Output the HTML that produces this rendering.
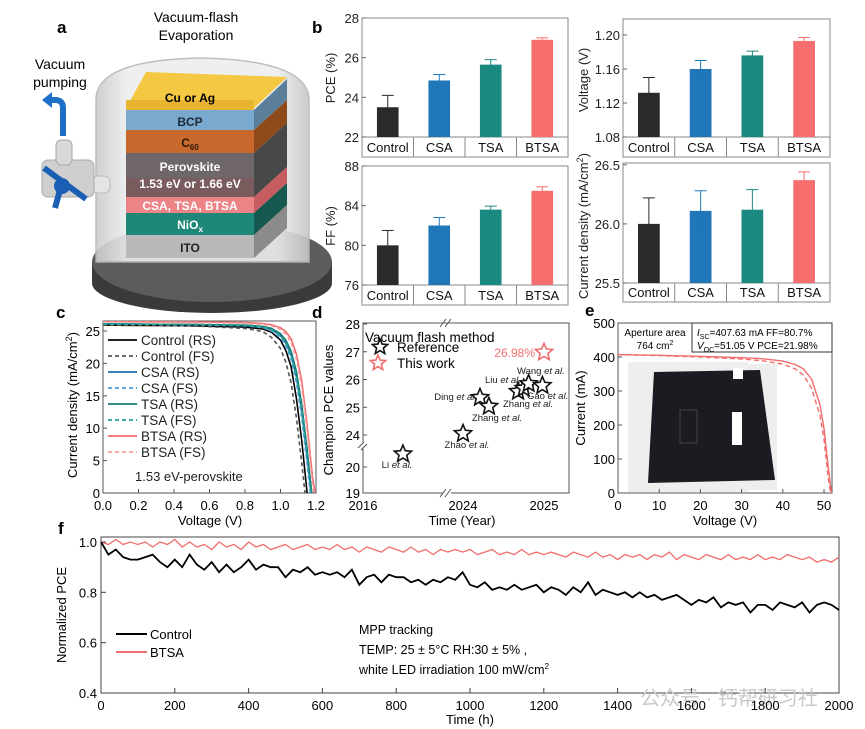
<!DOCTYPE html>
<html><head><meta charset="utf-8"><style>
html,body{margin:0;padding:0;background:#fff;}
svg{display:block;font-family:"Liberation Sans","Noto Sans CJK SC",sans-serif;}
</style></head><body>
<svg id="fig" width="865" height="729" viewBox="0 0 865 729">
<defs>
<linearGradient id="dome" x1="0" x2="1" y1="0" y2="0"><stop offset="0" stop-color="#c9cbcd"/><stop offset="0.15" stop-color="#eceeef"/><stop offset="0.85" stop-color="#eceeef"/><stop offset="1" stop-color="#c4c6c8"/></linearGradient>
<clipPath id="clipC"><rect x="103" y="321" width="213" height="172"/></clipPath>
<clipPath id="clipE"><rect x="618" y="323" width="214" height="170"/></clipPath>
</defs>
<!-- panel a -->
<g>
<text x="57" y="33" font-size="17" font-weight="bold">a</text>
<text x="196" y="22" font-size="14" text-anchor="middle">Vacuum-flash</text>
<text x="196" y="40" font-size="14" text-anchor="middle">Evaporation</text>
<text x="60" y="69" font-size="14" text-anchor="middle">Vacuum</text>
<text x="60" y="87" font-size="14" text-anchor="middle">pumping</text>
<ellipse cx="212" cy="283" rx="120" ry="30" fill="#3a3a3a"/>
<rect x="92" y="262" width="240" height="21" fill="#3a3a3a"/>
<ellipse cx="212" cy="262" rx="120" ry="40" fill="#5c5c5c"/>
<path d="M96,262 L96,100 Q96,60 200,58 Q309,60 309,100 L309,262 Z" fill="url(#dome)" stroke="#b5b8bb" stroke-width="1.5" opacity="0.9"/>
<g>
<polygon points="126,108 254,108 287,77 146,72" fill="#f4c842"/>
<rect x="126" y="100" width="128" height="10" fill="#e8b530"/>
<polygon points="254,110 287,79 287,100 254,130" fill="#5b7f9b"/>
<rect x="126" y="110" width="128" height="20" fill="#7aa9cf"/>
<polygon points="254,130 287,100 287,123 254,153" fill="#8f4a1c"/>
<rect x="126" y="130" width="128" height="23" fill="#c9682c"/>
<polygon points="254,153 287,123 287,167 254,197" fill="#484848"/>
<rect x="126" y="153" width="128" height="44" fill="#6e6668"/>
<rect x="126" y="178" width="128" height="19" fill="#7a5b5e"/>
<polygon points="254,197 287,167 287,183 254,213" fill="#c75d60"/>
<rect x="126" y="197" width="128" height="16" fill="#ec8386"/>
<polygon points="254,213 287,183 287,205 254,235" fill="#14584f"/>
<rect x="126" y="213" width="128" height="22" fill="#1f8778"/>
<polygon points="254,235 287,205 287,228 254,258" fill="#8b8b8b"/>
<rect x="126" y="235" width="128" height="23" fill="#b9b9b9"/>
<g font-size="12" font-weight="bold" text-anchor="middle">
<text x="190" y="102">Cu or Ag</text>
<text x="190" y="126" fill="#1b2a38">BCP</text>
<text x="190" y="147" fill="#2a1506">C<tspan font-size="8" dy="3">60</tspan></text>
<text x="190" y="171" fill="#fff">Perovskite</text>
<text x="190" y="188" fill="#fff">1.53 eV or  1.66 eV</text>
<text x="190" y="210" fill="#fff">CSA, TSA,  BTSA</text>
<text x="190" y="229" fill="#fff">NiO<tspan font-size="8" dy="3">x</tspan></text>
<text x="190" y="252" fill="#222">ITO</text>
</g></g>
<g>
<path d="M63,136 L63,108 Q63,100 55,100 L50,100" fill="none" stroke="#1e6fc8" stroke-width="6"/>
<polygon points="42,100 52,92 52,108" fill="#1e6fc8"/>
<rect x="92" y="176" width="18" height="17" rx="6" fill="#e4e4e4" stroke="#bbb"/>
<rect x="42" y="160" width="52" height="37" rx="6" fill="#cfcfcf" stroke="#aaa"/>
<rect x="56" y="140" width="16" height="25" rx="5" fill="#d8d8d8" stroke="#aaa"/>
<line x1="44" y1="168" x2="86" y2="199" stroke="#1a5fb4" stroke-width="6"/>
<circle cx="62" cy="186" r="8" fill="#1a5fb4"/>
<line x1="60" y1="190" x2="55" y2="208" stroke="#1a5fb4" stroke-width="6"/>
</g>
</g>
<g id="gB"><text x="312" y="33" font-size="17" font-weight="bold">b</text></g>
<g id="gC"><text x="56" y="318" font-size="17" font-weight="bold">c</text></g>
<g id="gD"><text x="312" y="318" font-size="17" font-weight="bold">d</text></g>
<g id="gE"><text x="585" y="316" font-size="17" font-weight="bold">e</text></g>
<g id="gF"><text x="58" y="534" font-size="17" font-weight="bold">f</text></g>
</svg>
<script>
// ---------- data ----------
var barCats = ['Control','CSA','TSA','BTSA'];
var barColors = ['#2a2a2a','#1f77b8','#1a8a80','#f76e6e'];
var pceVals = [23.5, 24.85, 25.65, 26.9];
var pceErr = [0.6, 0.3, 0.25, 0.1];
var vocVals = [1.132, 1.160, 1.176, 1.193];
var vocErr = [0.018, 0.010, 0.005, 0.004];
var ffVals = [80.0, 82.0, 83.6, 85.5];
var ffErr = [1.5, 0.8, 0.35, 0.4];
var jscVals = [26.0, 26.11, 26.12, 26.37];
var jscErr = [0.22, 0.17, 0.17, 0.07];
var pceTicks = [22,24,26,28];
var vocTicks = [1.08,1.12,1.16,1.20];
var ffTicks = [76,80,84,88];
var jscTicks = [25.5,26.0,26.5];

var jvVolt = [0,0.5,0.8,0.9,0.95,1.0,1.03,1.06,1.09,1.12,1.15,1.18,1.21];
var jvControlRS = [25.9,25.8,25.6,25.3,24.8,23.6,22,19.5,14.5,8,0,-8,-14];
var jvControlFS = [25.9,25.8,25.4,24.9,24.0,22.3,20.2,17,11.5,4.5,-3,-10,-16];
var jvCsaRS = [26.1,26.0,25.8,25.6,25.2,24.3,23.1,21.3,17.8,12.5,5.5,-2,-8];
var jvCsaFS = [26.1,26.0,25.8,25.5,25.0,24.0,22.7,20.7,17,11.5,4.5,-3,-9];
var jvTsaRS = [26.1,26.0,25.9,25.7,25.4,24.6,23.6,21.9,18.7,13.6,6.8,-1,-7];
var jvTsaFS = [26.1,26.0,25.85,25.6,25.2,24.3,23.2,21.3,18,12.8,6,-2,-8];
var jvBtsaRS = [26.45,26.4,26.3,26.15,25.95,25.5,24.9,23.8,21.4,17.2,10.6,2.6,-3];
var jvBtsaFS = [26.4,26.3,26.2,26.0,25.8,25.2,24.5,23.2,20.6,16.3,9.6,1.5,-4];
var jvNames = ['Control (RS)','Control (FS)','CSA (RS)','CSA (FS)','TSA (RS)','TSA (FS)','BTSA (RS)','BTSA (FS)'];
var jvXTicks = [0,0.2,0.4,0.6,0.8,1.0,1.2];
var jvYTicks = [0,5,10,15,20,25];

var refNames = ['Li','Zhao','Ding','Zhang','Zhang','Liu','Wang','Gao'];
var refYears = [2017.9,2024.0,2024.21,2024.32,2024.68,2024.75,2024.81,2024.98];
var refPce = [20.5,24.05,25.35,25.03,25.57,25.68,25.85,25.78];
var thisYear = [2025.0];
var thisPce = [26.98];

var modVolt = [0,10,20,30,35,40,43,45,47,49,50,51,52];
var modRS = [407,405,402,398,395,388,378,365,335,260,190,80,-20];
var modFS = [407,404,400,394,389,379,365,347,308,228,158,48,-30];

var stabControl = [1.00,0.95,0.97,0.94,0.93,0.93,0.94,0.95,0.92,0.90,0.93,0.90,0.95,0.91,0.89,0.92,0.88,0.91,0.88,0.90,0.93,0.89,0.91,0.90,0.90,0.86,0.89,0.88,0.90,0.87,0.88,0.87,0.88,0.86,0.89,0.83,0.86,0.87,0.84,0.87,0.86,0.86,0.84,0.85,0.83,0.85,0.84,0.86,0.85,0.88,0.83,0.82,0.84,0.81,0.82,0.81,0.83,0.81,0.82,0.83,0.80,0.82,0.81,0.79,0.82,0.80,0.84,0.79,0.81,0.80,0.79,0.80,0.78,0.80,0.78,0.79,0.77,0.78,0.79,0.77,0.75,0.77,0.76,0.78,0.74,0.76,0.75,0.76,0.72,0.75,0.75,0.73,0.76,0.75,0.74,0.76,0.72,0.75,0.76,0.75,0.73];
var stabBtsa = [1.00,0.99,1.01,0.99,1.00,0.99,1.00,0.98,1.00,0.99,1.01,0.98,1.00,0.98,0.99,0.97,1.00,0.98,0.99,0.97,1.00,0.98,0.99,0.97,0.98,0.99,0.97,0.98,0.99,0.97,0.98,0.97,0.99,0.97,0.98,0.96,0.98,0.97,0.96,0.98,0.97,0.96,0.98,0.96,0.97,0.95,0.97,0.96,0.97,0.96,0.97,0.95,0.96,0.97,0.95,0.96,0.95,0.97,0.95,0.96,0.95,0.96,0.95,0.94,0.96,0.95,0.94,0.96,0.94,0.95,0.93,0.95,0.94,0.95,0.93,0.95,0.94,0.96,0.93,0.95,0.94,0.93,0.95,0.94,0.93,0.95,0.93,0.94,0.93,0.95,0.93,0.94,0.93,0.95,0.94,0.93,0.94,0.92,0.93,0.92,0.94];
var stabStep = 20;
var stabXTicks = [0,200,400,600,800,1000,1200,1400,1600,1800,2000];
var stabYTicks = [0.4,0.6,0.8,1.0];

// ---------- helpers ----------
var NS='http://www.w3.org/2000/svg';
function mk(tag, attrs, parent){var e=document.createElementNS(NS,tag);for(var k in attrs)e.setAttribute(k,attrs[k]);parent.appendChild(e);return e;}
function txt(s, attrs, parent){var e=mk('text',attrs,parent);e.textContent=s;return e;}
function lin(d0,d1,r0,r1){return function(v){return r0+(v-d0)/(d1-d0)*(r1-r0);};}

// ---------- panel b bar charts ----------
function barChart(g, box, ymin, ymax, vals, errs, ticks, fmt, ylab, name){
  var y=lin(ymin,ymax,box.b,box.t);
  var grp=mk('g',{},g);
  
  
  mk('rect',{x:box.l,y:box.t,width:box.r-box.l,height:box.cb-box.t,fill:'none',stroke:'#888','stroke-width':1},grp);
  mk('line',{x1:box.l,y1:box.b,x2:box.r,y2:box.b,stroke:'#888'},grp);
  var cw=(box.r-box.l)/vals.length;
  for(var i=0;i<vals.length;i++){
    var cx=box.l+cw*(i+0.5), bw=cw*0.42;
    if(i>0) mk('line',{x1:box.l+cw*i,y1:box.b,x2:box.l+cw*i,y2:box.cb,stroke:'#888'},grp);
    var bar=mk('rect',{x:cx-bw/2,y:y(vals[i]),width:bw,height:box.b-y(vals[i]),fill:barColors[i]},grp);
    
    
    var et=y(vals[i]+errs[i]), eb=y(vals[i]-errs[i]);
    mk('line',{x1:cx,y1:et,x2:cx,y2:eb,stroke:barColors[i],'stroke-width':1},grp);
    mk('line',{x1:cx-6,y1:et,x2:cx+6,y2:et,stroke:barColors[i],'stroke-width':1},grp);
    var ct=txt(barCats[i],{x:cx,y:box.cb-5,'font-size':13,'text-anchor':'middle',fill:'#111'},grp);
    
    
  }
  for(var j=0;j<ticks.length;j++){
    var ty=y(ticks[j]);
    mk('line',{x1:box.l,y1:ty,x2:box.l+4,y2:ty,stroke:'#666'},grp);
    var tl=txt(fmt(ticks[j]),{x:box.l-3,y:ty+5,'font-size':13,'text-anchor':'end',fill:'#222'},grp);
    
    
  }
  var yl=txt(ylab.t,{x:ylab.x,y:ylab.y,'font-size':13,'text-anchor':'middle',transform:'rotate(-90 '+ylab.x+' '+ylab.y+')',fill:'#222'},grp);
  
  
  return yl;
}
var gB=document.getElementById('gB');
barChart(gB,{l:362,r:568,t:18,b:137,cb:157},22,28,pceVals,pceErr,pceTicks,function(v){return String(v);},{t:'PCE (%)',x:335,y:78},'pce-bar-chart');
barChart(gB,{l:362,r:568,t:166,b:285,cb:305},76,88,ffVals,ffErr,ffTicks,function(v){return String(v);},{t:'FF (%)',x:335,y:226},'ff-bar-chart');
barChart(gB,{l:623,r:830,t:19,b:137,cb:157},1.08,1.2188,vocVals,vocErr,vocTicks,function(v){return v.toFixed(2);},{t:'Voltage (V)',x:588,y:80},'voc-bar-chart');
var jl=barChart(gB,{l:623,r:830,t:163,b:283,cb:302},25.5,26.515,jscVals,jscErr,jscTicks,function(v){return v.toFixed(1);},{t:'',x:588,y:226},'jsc-bar-chart');
jl.innerHTML='Current density (mA/cm<tspan font-size="9" dy="-5">2</tspan><tspan dy="5">)</tspan>';

// ---------- panel c J-V ----------
var gC=document.getElementById('gC');
var cx=lin(0,1.2,103,316), cy=lin(0,26.54,493,321);
mk('rect',{x:103,y:321,width:213,height:172,fill:'none',stroke:'#555'},gC);
var jvSeries=[jvControlRS,jvControlFS,jvCsaRS,jvCsaFS,jvTsaRS,jvTsaFS,jvBtsaRS,jvBtsaFS];
var jvCols=['#000','#555','#1f6fa8','#4aa0d8','#167d73','#2aa393','#f26d6d','#f5a0a0'];
var lg=mk('g',{'clip-path':'url(#clipC)'},gC);
for(var s=0;s<jvSeries.length;s++){
  var pts=jvVolt.map(function(v,i){return cx(v).toFixed(1)+','+cy(jvSeries[s][i]).toFixed(1);}).join(' ');
  var pl=mk('polyline',{points:pts,fill:'none',stroke:jvCols[s],'stroke-width':1.6,'stroke-dasharray':(s%2?'4,3':'none')},lg);
  
  
  var ly=340+s*16;
  mk('line',{x1:108,y1:ly,x2:137,y2:ly,stroke:jvCols[s],'stroke-width':1.8,'stroke-dasharray':(s%2?'4,3':'none')},gC);
  var lt=txt(jvNames[s],{x:141,y:ly+5,'font-size':13.5,fill:'#222'},gC);
  
  
}
txt('1.53 eV-perovskite',{x:135,y:481,'font-size':13,fill:'#222'},gC);
jvXTicks.forEach(function(v){mk('line',{x1:cx(v),y1:493,x2:cx(v),y2:489,stroke:'#555'},gC);var t=txt(v.toFixed(1),{x:cx(v),y:510,'font-size':13,'text-anchor':'middle'},gC);});
jvYTicks.forEach(function(v){mk('line',{x1:103,y1:cy(v),x2:107,y2:cy(v),stroke:'#555'},gC);var t=txt(String(v),{x:100,y:cy(v)+5,'font-size':13,'text-anchor':'end'},gC);});
var cxl=txt('Voltage (V)',{x:210,y:525,'font-size':13,'text-anchor':'middle'},gC);


var cyl=mk('text',{x:77,y:405,'font-size':13,'text-anchor':'middle',transform:'rotate(-90 77 405)'},gC);
cyl.innerHTML='Current density (mA/cm<tspan font-size="9" dy="-5">2</tspan><tspan dy="5">)</tspan>';



// ---------- panel d ----------
var gD=document.getElementById('gD');
function dx(yr){return yr<2022?lin(2016,2020,363,447)(yr):lin(2024,2025,463,544)(yr);}
function dy(p){return p<22?lin(19,20,493,467)(p):lin(24,28,435,324)(p);}
mk('rect',{x:363,y:323,width:206,height:170,fill:'none',stroke:'#555'},gD);
function star(x,y,r,col,parent){var p=[];for(var i=0;i<10;i++){var a=-Math.PI/2+i*Math.PI/5,rr=i%2?r*0.45:r;p.push((x+rr*Math.cos(a)).toFixed(1)+','+(y+rr*Math.sin(a)).toFixed(1));}return mk('polygon',{points:p.join(' '),fill:'#fff',stroke:col,'stroke-width':1.6},parent);}
for(var i=0;i<refNames.length;i++){
  var st=star(dx(refYears[i]),dy(refPce[i]),9,'#111',gD);
  
  
}
var refTxt=[['Li',397,468,'middle'],['Zhao',467,448,'middle'],['Ding',477,400,'end'],['Zhang',497,421,'middle'],['Zhang',503,407,'start'],['Liu',485,383,'start'],['Wang',517,374,'start'],['Gao',527,399,'start']];
refTxt.forEach(function(r){var t=mk('text',{x:r[1],y:r[2],'font-size':9.5,'text-anchor':r[3],fill:'#222'},gD);t.innerHTML=r[0]+' <tspan font-style="italic">et al.</tspan>';});
var tw=star(dx(thisYear[0]),dy(thisPce[0]),9,'#f26d6d',gD);


txt(thisPce[0].toFixed(2)+'%',{x:535,y:357,'font-size':12,'text-anchor':'end',fill:'#f26d6d'},gD);
txt('Vacuum flash method',{x:365,y:342,'font-size':13.5},gD);
star(380,347,8,'#111',gD);txt('Reference',{x:397,y:352,'font-size':13.5},gD);
star(378,363,8,'#f26d6d',gD);txt('This work',{x:397,y:368,'font-size':13.5},gD);
[28,27,26,25,24,20,19].forEach(function(v){mk('line',{x1:363,y1:dy(v),x2:367,y2:dy(v),stroke:'#555'},gD);var t=txt(String(v),{x:360,y:dy(v)+5,'font-size':13,'text-anchor':'end'},gD);});
[[2016,'2016'],[2024,'2024'],[2025,'2025']].forEach(function(v){var t=txt(v[1],{x:dx(v[0]),y:510,'font-size':13,'text-anchor':'middle'},gD);});
mk('rect',{x:357,y:442,width:12,height:6,fill:'#fff'},gD);
mk('path',{d:'M358,448 l6,-6 M361,450 l6,-6',stroke:'#555'},gD);
mk('rect',{x:443,y:488,width:8,height:10,fill:'#fff'},gD);
mk('path',{d:'M440,497 l6,-8 M445,497 l6,-8 M440,327 l6,-8 M445,327 l6,-8',stroke:'#555'},gD);
var dxl=txt('Time (Year)',{x:462,y:525,'font-size':13,'text-anchor':'middle'},gD);


var dyl=txt('Champion  PCE values',{x:333,y:410,'font-size':13,'text-anchor':'middle',transform:'rotate(-90 333 410)'},gD);



// ---------- panel e ----------
var gE=document.getElementById('gE');
var ex=lin(0,50,618,824), ey=lin(0,500,493,323);
mk('rect',{x:618,y:323,width:214,height:170,fill:'none',stroke:'#555'},gE);
var ec=mk('g',{'clip-path':'url(#clipE)'},gE);
[[modRS,'none','rs'],[modFS,'5,3','fs']].forEach(function(c){var p=mk('polyline',{points:modVolt.map(function(v,i){return ex(v).toFixed(1)+','+ey(c[0][i]).toFixed(1);}).join(' '),fill:'none',stroke:'#f26d6d','stroke-width':1.4,'stroke-dasharray':c[1]},ec);});
var ph=mk('g',{},gE);


mk('rect',{x:628,y:362,width:120,height:130,fill:'#ddd',opacity:0.5},ph);
mk('rect',{x:635,y:364,width:142,height:126,fill:'#eeeeee'},ph);
mk('polygon',{points:'654,372 760,370 775,480 648,483',fill:'#1c1b22'},ph);
mk('rect',{x:680,y:410,width:17,height:33,fill:'none',stroke:'#444'},ph);
mk('rect',{x:732,y:412,width:10,height:33,fill:'#fff'},ph);
mk('rect',{x:733,y:368,width:10,height:11,fill:'#fff'},ph);
mk('rect',{x:621,y:325,width:69,height:28,fill:'#fff'},gE);
txt('Aperture area',{x:655,y:336,'font-size':10,'text-anchor':'middle'},gE);
var a2=mk('text',{x:655,y:349,'font-size':10,'text-anchor':'middle'},gE);a2.innerHTML='764 cm<tspan font-size="7" dy="-4">2</tspan>';
mk('rect',{x:692,y:323,width:140,height:29,fill:'#fff',stroke:'#333'},gE);
var i1=mk('text',{x:697,y:336,'font-size':10},gE);i1.innerHTML='<tspan font-style="italic">I</tspan><tspan font-size="7" dy="3">SC</tspan><tspan dy="-3">=407.63 mA  FF=80.7%</tspan>';
var i2=mk('text',{x:697,y:349,'font-size':10},gE);i2.innerHTML='<tspan font-style="italic">V</tspan><tspan font-size="7" dy="3">OC</tspan><tspan dy="-3">=51.05 V    PCE=21.98%</tspan>';
[0,10,20,30,40,50].forEach(function(v){mk('line',{x1:ex(v),y1:493,x2:ex(v),y2:489,stroke:'#555'},gE);var t=txt(String(v),{x:ex(v),y:510,'font-size':13,'text-anchor':'middle'},gE);});
[0,100,200,300,400,500].forEach(function(v){mk('line',{x1:618,y1:ey(v),x2:622,y2:ey(v),stroke:'#555'},gE);var t=txt(String(v),{x:615,y:ey(v)+5,'font-size':13,'text-anchor':'end'},gE);});
var exl=txt('Voltage (V)',{x:725,y:525,'font-size':13,'text-anchor':'middle'},gE);


var eyl=txt('Current (mA)',{x:585,y:408,'font-size':13,'text-anchor':'middle',transform:'rotate(-90 585 408)'},gE);



// ---------- panel f ----------
var gF=document.getElementById('gF');
var fx=lin(0,2000,101,839), fy=lin(0.4,1.0,693,542);
mk('rect',{x:101,y:537,width:738,height:156,fill:'none',stroke:'#444'},gF);
var wm=txt('公众号 · 钙帮研习社',{x:640,y:705,'font-size':20,fill:'#c8c8c8'},gF);


[[stabBtsa,'#f26d6d','btsa'],[stabControl,'#000','control']].forEach(function(c){var p=mk('polyline',{points:c[0].map(function(v,i){return fx(i*stabStep).toFixed(1)+','+fy(v).toFixed(1);}).join(' '),fill:'none',stroke:c[1],'stroke-width':c[2]=='control'?1.8:1.3},gF);});
stabXTicks.forEach(function(v){mk('line',{x1:fx(v),y1:693,x2:fx(v),y2:688,stroke:'#444'},gF);var t=txt(String(v),{x:fx(v),y:710,'font-size':13,'text-anchor':'middle'},gF);});
stabYTicks.forEach(function(v){mk('line',{x1:101,y1:fy(v),x2:106,y2:fy(v),stroke:'#444'},gF);var t=txt(v.toFixed(1),{x:97,y:fy(v)+5,'font-size':13,'text-anchor':'end'},gF);});
var fxl=txt('Time (h)',{x:470,y:724,'font-size':13,'text-anchor':'middle'},gF);


var fyl=txt('Normalized PCE',{x:66,y:615,'font-size':13,'text-anchor':'middle',transform:'rotate(-90 66 615)'},gF);


mk('line',{x1:116,y1:634,x2:147,y2:634,stroke:'#000','stroke-width':2},gF);
var l1=txt('Control',{x:150,y:639,'font-size':13},gF);


mk('line',{x1:116,y1:652,x2:147,y2:652,stroke:'#f26d6d','stroke-width':2},gF);
var l2=txt('BTSA',{x:150,y:657,'font-size':13},gF);


txt('MPP tracking',{x:359,y:634,'font-size':12.5},gF);
txt('TEMP: 25 ± 5°C  RH:30 ± 5% ,',{x:359,y:654,'font-size':12.5},gF);
var ann=mk('text',{x:359,y:674,'font-size':12.5},gF);ann.innerHTML='white LED irradiation 100 mW/cm<tspan font-size="8" dy="-5">2</tspan>';
</script>
</body></html>
